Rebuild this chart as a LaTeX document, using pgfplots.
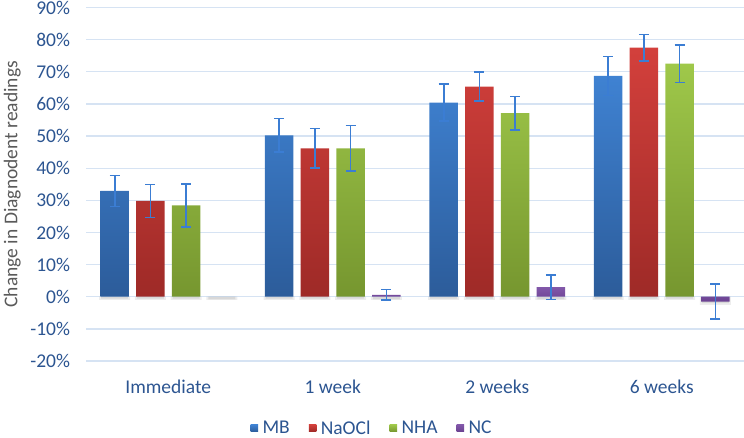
\documentclass[border=0pt]{standalone}
\usepackage{pgfplots}
\pgfplotsset{compat=1.18}
\usepackage{pgfplotstable}
\usepackage{fontspec}
\setmainfont{Carlito}

\definecolor{mbTop}{HTML}{3F82D2}
\definecolor{mbBot}{HTML}{2C5C9A}
\definecolor{mbMid}{HTML}{3670BA}
\definecolor{naTop}{HTML}{D3403C}
\definecolor{naBot}{HTML}{9E2A27}
\definecolor{naMid}{HTML}{BE3532}
\definecolor{nhTop}{HTML}{9FC84A}
\definecolor{nhBot}{HTML}{76962F}
\definecolor{nhMid}{HTML}{8DB33E}
\definecolor{ncTop}{HTML}{8258AA}
\definecolor{ncBot}{HTML}{6A4190}
\definecolor{ncMid}{HTML}{7650A0}
\definecolor{errBlue}{HTML}{3B7DD3}
\definecolor{tickBlue}{HTML}{2C5591}
\definecolor{gridBlue}{HTML}{D6E3F3}
\definecolor{labelGray}{HTML}{5A5A5A}

% mean change (%) and error per time point
\pgfplotstableread{
x y err
0 32.9 4.8
1 50.2 5.2
2 60.4 5.75
3 68.7 6.1
}\mbdata
\pgfplotstableread{
x y err
0 29.8 5.1
1 46.2 6.2
2 65.4 4.5
3 77.5 4.15
}\nadata
\pgfplotstableread{
x y err
0 28.4 6.7
1 46.2 7.1
2 57.1 5.25
3 72.5 5.8
}\nhdata
\pgfplotstableread{
x y err
1 0.6 1.6
2 3.0 3.85
3 -1.5 5.45
}\ncdata
% soft shadow strip under each bar base (depth below the bar end)
\pgfplotstableread{
x s
0 -1.0
1 -1.0
2 -1.0
3 -1.0
}\shadowdata
\pgfplotstableread{
x s
0 -1.0
1 -1.0
2 -1.0
3 -2.5
}\ncshadowdata

\newcommand{\chartfont}{\fontsize{19.5bp}{23bp}\selectfont}
% legend swatch: small square plus a little room before the text
\newcommand{\swatch}[1]{\fill[#1] (0bp,-3.6bp) rectangle (7.5bp,3.6bp); \path (0bp,0bp) -- (10bp,0bp);}

\begin{document}
\begin{tikzpicture}
\path[use as bounding box] (0,0) rectangle (744bp,438bp);
\begin{axis}[
  at={(86bp,77bp)}, anchor=south west,
  scale only axis, width=658bp, height=353.5bp,
  xmin=-0.5, xmax=3.5, ymin=-20, ymax=90,
  ybar, bar width=28.5bp,
  xtick={0,1,2,3},
  xticklabels={Immediate,1 week,2 weeks,6 weeks},
  ytick={-20,-10,0,10,20,30,40,50,60,70,80,90},
  yticklabels={-20\%,-10\%,0\%,10\%,20\%,30\%,40\%,50\%,60\%,70\%,80\%,90\%},
  ymajorgrids, grid style={gridBlue, line width=1.3bp},
  axis line style={draw=none}, major tick length=0pt,
  tick label style={font=\chartfont, text=tickBlue},
  yticklabel style={xshift=-12.5bp},
  xticklabel style={yshift=-15bp},
  ylabel={Change in Diagnodent readings},
  ylabel style={font=\chartfont, text=labelGray, inner sep=0pt,
    at={(axis description cs:-0.0989,0.5)}, anchor=south},
  legend columns=-1,
  legend style={at={(axis description cs:0.4347,-0.19)}, anchor=center,
    draw=none, fill=none, font=\chartfont, text=tickBlue,
    nodes={inner xsep=2bp, inner ysep=1.5bp},
    /tikz/every even column/.append style={column sep=17bp}},
  error bars/y dir=both, error bars/y explicit,
  error bars/error bar style={draw=errBlue, line width=1.6bp},
  error bars/error mark options={rotate=90, draw=errBlue, line width=1.6bp, mark size=5bp},
  shadow a/.style={draw=none, fill=black, fill opacity=0.07, bar width=31bp, forget plot},
  shadow b/.style={draw=none, fill=black, fill opacity=0.09, bar width=27bp, forget plot},
]
% shadows first, so the bars sit on top of them
\addplot[shadow a, bar shift=-53.55bp] table[x=x, y=s] {\shadowdata};
\addplot[shadow a, bar shift=-17.85bp] table[x=x, y=s] {\shadowdata};
\addplot[shadow a, bar shift=17.85bp]  table[x=x, y=s] {\shadowdata};
\addplot[shadow a, bar shift=53.55bp]  table[x=x, y=s] {\ncshadowdata};
\addplot[shadow b, bar shift=-53.55bp] table[x=x, y expr=\thisrow{s}*0.6] {\shadowdata};
\addplot[shadow b, bar shift=-17.85bp] table[x=x, y expr=\thisrow{s}*0.6] {\shadowdata};
\addplot[shadow b, bar shift=17.85bp]  table[x=x, y expr=\thisrow{s}*0.6] {\shadowdata};
\addplot[shadow b, bar shift=53.55bp]  table[x=x, y expr=\thisrow{s}*0.8] {\ncshadowdata};

\addplot[draw=none, top color=mbTop, bottom color=mbBot, bar shift=-53.55bp,
  legend image code/.code={\swatch{mbMid}}]
  table[x=x, y=y, y error=err] {\mbdata};
\addplot[draw=none, top color=naTop, bottom color=naBot, bar shift=-17.85bp,
  legend image code/.code={\swatch{naMid}}]
  table[x=x, y=y, y error=err] {\nadata};
\addplot[draw=none, top color=nhTop, bottom color=nhBot, bar shift=17.85bp,
  legend image code/.code={\swatch{nhMid}}]
  table[x=x, y=y, y error=err] {\nhdata};
\addplot[draw=none, top color=ncTop, bottom color=ncBot, bar shift=53.55bp,
  legend image code/.code={\swatch{ncMid}}]
  table[x=x, y=y, y error=err] {\ncdata};
\legend{MB,NaOCl,NHA,NC}
\end{axis}
\end{tikzpicture}
\end{document}
